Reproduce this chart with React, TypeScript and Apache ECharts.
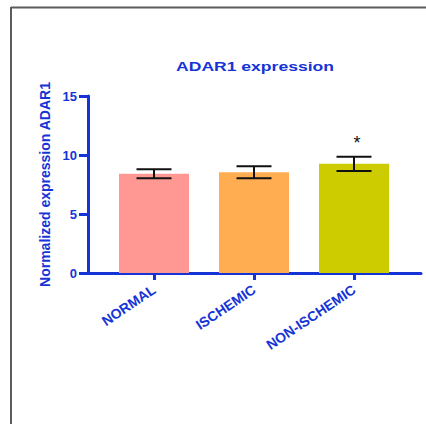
import React, { useEffect, useRef } from "react";
import * as echarts from "echarts";

const categories = ["NORMAL", "ISCHEMIC", "NON-ISCHEMIC"];
const positions = [0, 1, 2];
const means = [8.42, 8.53, 9.25];
const sems = [0.38, 0.51, 0.61];
const significance = ["", "", "*"];
const barColors = ["#ff9893", "#ffad50", "#cccc00"];
const yTicks = { min: 0, max: 15, interval: 5 };

const BLUE = "#1634d6";

export default function App() {
  const ref = useRef<HTMLDivElement>(null);
  useEffect(() => {
    if (!ref.current) return;
    const chart = echarts.init(ref.current, null, { renderer: "svg" });
    const option: any = {
      animation: false,
      backgroundColor: "#ffffff",
      graphic: [
        {
          type: "line",
          shape: { x1: 11, y1: 7.5, x2: 426, y2: 7.5 },
          style: { stroke: "#5c5c5c", lineWidth: 2 },
          silent: true,
        },
        {
          type: "line",
          shape: { x1: 11, y1: 7, x2: 11, y2: 424 },
          style: { stroke: "#5c5c5c", lineWidth: 2 },
          silent: true,
        },
        {
          type: "text",
          x: 255,
          y: 66,
          scaleX: 1.35,
          style: {
            text: "ADAR1 expression",
            fill: BLUE,
            font: "bold 13px Arial, 'Liberation Sans', sans-serif",
            textAlign: "center",
            textVerticalAlign: "middle",
          },
        },
      ],
      grid: { left: 88, right: 5, top: 96, bottom: 151, containLabel: false },
      xAxis: {
        type: "value",
        min: -0.66,
        max: 2.67,
        splitLine: { show: false },
        axisLine: { show: true, onZero: false, lineStyle: { color: BLUE, width: 3 } },
        axisTick: {
          show: true,
          customValues: positions,
          length: 7,
          lineStyle: { color: BLUE, width: 3 },
        },
        axisLabel: {
          customValues: positions,
          rotate: 34,
          margin: 15,
          color: BLUE,
          fontFamily: "Arial, 'Liberation Sans', sans-serif",
          fontWeight: "bold",
          fontSize: 14,
          formatter: (v: number) => categories[Math.round(v)] ?? "",
        },
      },
      yAxis: {
        type: "value",
        min: yTicks.min,
        max: yTicks.max,
        interval: yTicks.interval,
        name: "Normalized expression ADAR1",
        nameLocation: "middle",
        nameRotate: 90,
        nameGap: 36,
        nameTextStyle: {
          color: BLUE,
          fontFamily: "Arial, 'Liberation Sans', sans-serif",
          fontWeight: "bold",
          fontSize: 14,
        },
        splitLine: { show: false },
        axisLine: { show: true, onZero: false, lineStyle: { color: BLUE, width: 3 } },
        axisTick: { show: true, length: 9, lineStyle: { color: BLUE, width: 3 } },
        axisLabel: {
          margin: 11,
          color: BLUE,
          fontFamily: "Arial, 'Liberation Sans', sans-serif",
          fontWeight: "bold",
          fontSize: 13,
        },
      },
      series: [
        {
          type: "bar",
          barWidth: 70,
          data: positions.map((p, i) => ({
            value: [p, means[i]],
            itemStyle: { color: barColors[i] },
          })),
        },
        {
          type: "custom",
          data: positions.map((p, i) => [p, means[i], sems[i], i]),
          z: 10,
          renderItem: (params: any, api: any) => {
            const x = api.value(0);
            const m = api.value(1);
            const s = api.value(2);
            const idx = api.value(3);
            const top = api.coord([x, m + s]);
            const bot = api.coord([x, m - s]);
            const half = 17.5;
            const style = { stroke: "#111111", lineWidth: 2 };
            const children: any[] = [
              { type: "line", shape: { x1: top[0], y1: top[1], x2: bot[0], y2: bot[1] }, style },
              { type: "line", shape: { x1: top[0] - half, y1: top[1], x2: top[0] + half, y2: top[1] }, style },
              { type: "line", shape: { x1: bot[0] - half, y1: bot[1], x2: bot[0] + half, y2: bot[1] }, style },
            ];
            const sig = significance[idx];
            if (sig) {
              children.push({
                type: "text",
                x: top[0] + 3,
                y: top[1] - 14,
                style: {
                  text: sig,
                  fill: "#111111",
                  font: "18px Arial, 'Liberation Sans', sans-serif",
                  textAlign: "center",
                  textVerticalAlign: "middle",
                },
              });
            }
            return { type: "group", children };
          },
        },
      ],
    };
    chart.setOption(option);
    return () => chart.dispose();
  }, []);
  return (
    <div
      ref={ref}
      style={{ position: "fixed", left: 0, top: 0, width: 426, height: 424 }}
    />
  );
}
